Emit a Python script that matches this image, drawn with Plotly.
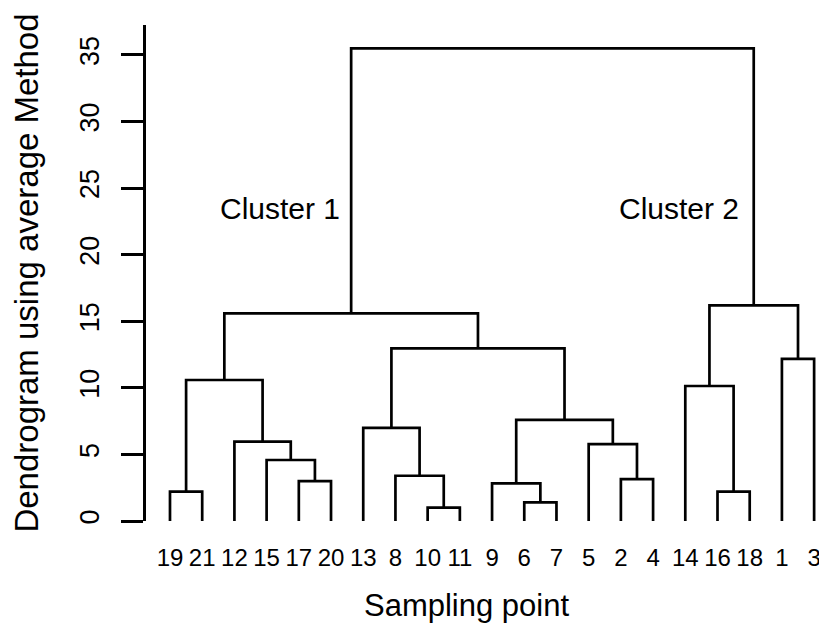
import plotly.graph_objects as go

# ---- data ----
leaf_order = [19, 21, 12, 15, 17, 20, 13, 8, 10, 11, 9, 6, 7, 5, 2, 4, 14, 16, 18, 1, 3]
# R-style merge matrix: negative = sampling point id, positive = earlier merge row (1-based)
merge_a = [-10, -6, -19, -16, -9, -17, -2, -8, -15, -5, -12, -13, 5, -14, 3, -1, 12, 15, 14, 18]
merge_b = [-11, -7, -21, -18, 2, -20, -4, 1, 6, 7, 9, 8, 10, 4, 11, -3, 13, 17, 16, 19]
merge_h = [1.0, 1.4, 2.2, 2.2, 2.83, 3.0, 3.15, 3.4, 4.58, 5.78, 5.96, 7.0, 7.59, 10.14,
           10.59, 12.17, 12.97, 15.6, 16.2, 35.5]
y_ticks = [0, 5, 10, 15, 20, 25, 30, 35]
cluster_labels = ["Cluster 1", "Cluster 2"]
cluster_nodes = [18, 19]      # merge rows that define each cluster
cluster_label_height = 23.5

# ---- dendrogram geometry from the merge structure ----
leaf_pos = {leaf: i for i, leaf in enumerate(leaf_order)}
node_x, node_h = {}, {}


def child(c):
    if c < 0:
        return leaf_pos[-c], 0.0
    return node_x[c], node_h[c]


xs, ys = [], []
for k, (a, b, h) in enumerate(zip(merge_a, merge_b, merge_h), start=1):
    xa, ha = child(a)
    xb, hb = child(b)
    node_x[k] = (xa + xb) / 2
    node_h[k] = h
    xs += [xa, xa, xb, xb, None]
    ys += [ha, h, h, hb, None]

FONT = "Liberation Sans, Arial, sans-serif"

fig = go.Figure()
fig.add_trace(go.Scatter(x=xs, y=ys, mode="lines",
                         line=dict(color="black", width=2.7),
                         hoverinfo="skip", showlegend=False))

for lab, node, shift in zip(cluster_labels, cluster_nodes, [-9, -13]):
    fig.add_annotation(x=node_x[node], y=cluster_label_height, xref="x", yref="y",
                       text=lab, showarrow=False, xanchor="right", yanchor="middle",
                       xshift=shift, font=dict(family=FONT, size=30, color="black"))

fig.add_annotation(x=0.47, y=-0.171, xref="paper", yref="paper",
                   text="Sampling point", showarrow=False,
                   xanchor="center", yanchor="middle",
                   font=dict(family=FONT, size=31, color="black"))

# the page body has an 8px default margin, so the figure is 8px smaller on each side
fig.update_layout(
    width=819, height=615,
    margin=dict(l=138, r=0, t=17, b=102),
    paper_bgcolor="white", plot_bgcolor="white",
    font=dict(family=FONT, color="black"),
    showlegend=False,
)
fig.update_xaxes(
    range=[-0.745, 20.40],
    tickmode="array", tickvals=list(range(len(leaf_order))),
    ticktext=[str(v) for v in leaf_order],
    ticks="", showline=False, showgrid=False, zeroline=False,
    tickfont=dict(family=FONT, size=24, color="black"),
    ticklabelstandoff=20, automargin=False,
)
fig.update_yaxes(
    range=[0, 37.25],
    tickmode="array", tickvals=y_ticks, ticktext=[str(v) for v in y_ticks],
    ticks="outside", ticklen=22, tickwidth=2.7, tickcolor="black",
    showline=True, linewidth=2.7, linecolor="black",
    showgrid=False, zeroline=False, tickangle=-90,
    tickfont=dict(family=FONT, size=27, color="black"),
    ticklabelstandoff=11, automargin=False,
    title=dict(text="Dendrogram using average Method", standoff=31,
               font=dict(family=FONT, size=33, color="black")),
)

fig.write_html("out.html")
